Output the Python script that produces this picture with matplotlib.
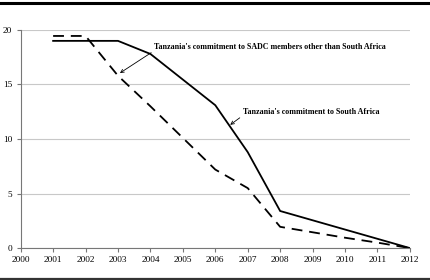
import matplotlib
matplotlib.use("Agg")
import matplotlib.pyplot as plt

# years and commitments
years = [2001, 2002, 2003, 2004, 2005, 2006, 2007, 2008, 2009, 2010, 2011, 2012]
south_africa = [19.0, 19.0, 19.0, 17.8, 15.45, 13.1, 8.8, 3.4, 2.55, 1.7, 0.85, 0.0]
other_sadc = [19.45, 19.45, 15.8, 13.0, 10.1, 7.2, 5.5, 1.95, 1.45, 0.95, 0.5, 0.0]
x_ticks = list(range(2000, 2013))
y_ticks = [0, 5, 10, 15, 20]

plt.rcParams['font.family'] = ['Liberation Serif', 'DejaVu Serif']

fig = plt.figure(figsize=(4.31, 2.80), dpi=100)
ax = fig.add_axes([0.048, 0.114, 0.903, 0.779])

ax.plot(years, south_africa, color='black', lw=1.3, solid_joinstyle='miter')
ax.plot(years, other_sadc, color='black', lw=1.3, dashes=(6, 3.8))

ax.set_xlim(2000, 2012)
ax.set_ylim(0, 20)
ax.set_xticks(x_ticks)
ax.set_yticks(y_ticks)
ax.tick_params(labelsize=6.7, length=3, width=0.8, color='#777777', pad=3)
ax.grid(axis='y', color='#c8c8c8', lw=0.8)
ax.set_axisbelow(True)
for s in ['top', 'right']:
    ax.spines[s].set_visible(False)
for s in ['left', 'bottom']:
    ax.spines[s].set_color('#777777')
    ax.spines[s].set_linewidth(0.8)

ax.annotate("Tanzania's commitment to SADC members other than South Africa",
            xy=(2003.06, 16.05), xytext=(2004.11, 18.45),
            fontsize=5.8, fontweight='bold', ha='left', va='center',
            arrowprops=dict(arrowstyle='->', color='black', lw=0.6,
                            shrinkA=0, shrinkB=0, relpos=(0, 0)))
ax.annotate("Tanzania's commitment to South Africa",
            xy=(2006.46, 11.3), xytext=(2006.84, 12.5),
            fontsize=5.8, fontweight='bold', ha='left', va='center',
            arrowprops=dict(arrowstyle='->', color='black', lw=0.6,
                            shrinkA=0, shrinkB=0, relpos=(0, 0)))

# page rules above and below the figure
fig.add_artist(plt.Line2D([0, 1], [0.991, 0.991], color='black', lw=2.2,
                          transform=fig.transFigure))
fig.add_artist(plt.Line2D([0, 1], [0.004, 0.004], color='#333333', lw=1.6,
                          transform=fig.transFigure))

fig.savefig('out.png', dpi=100)
